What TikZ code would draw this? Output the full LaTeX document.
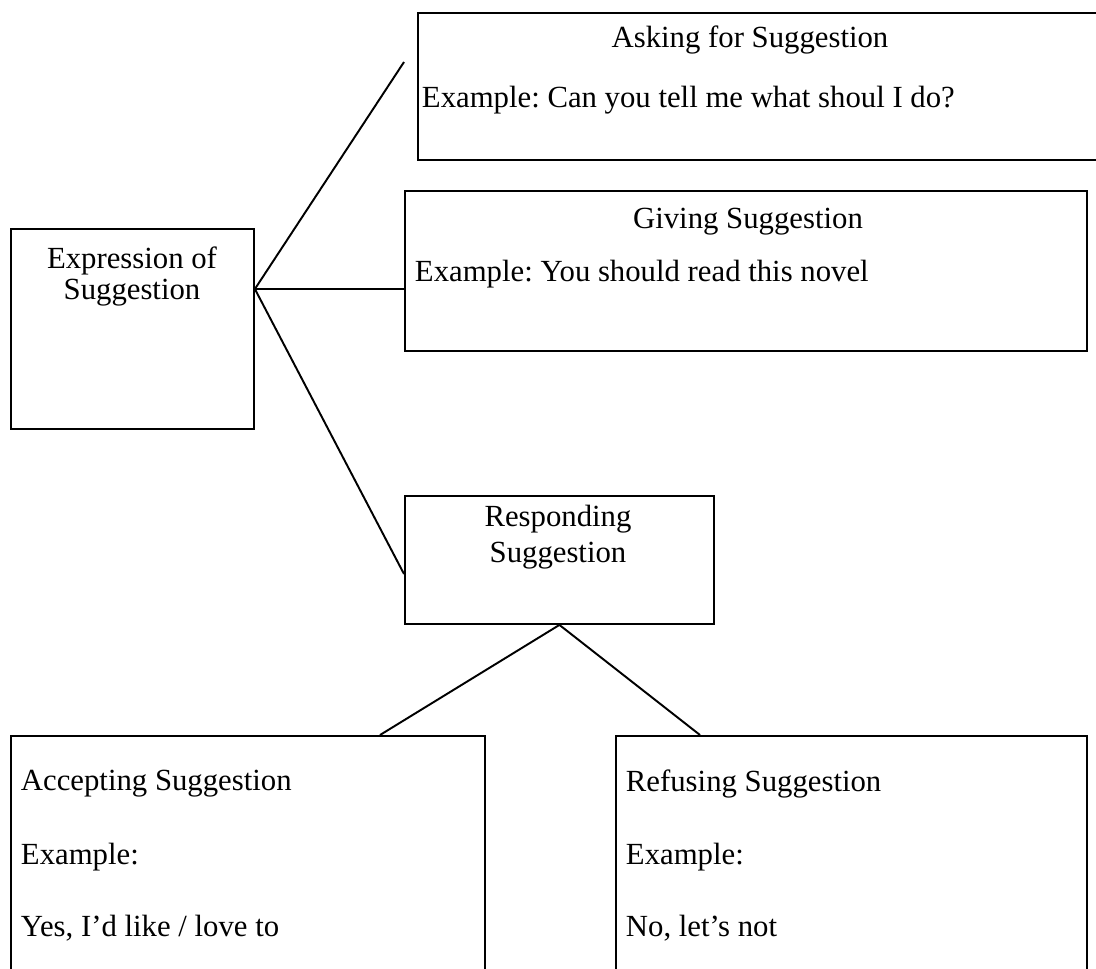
\documentclass[tikz,border=0pt]{standalone}
\usepackage{fontspec}
\setmainfont{Liberation Serif}
\frenchspacing

\begin{document}
\begin{tikzpicture}[x=0.02cm,y=-0.02cm,line width=1.1pt,
    box/.style={draw,rectangle,anchor=north west,inner sep=0pt},
    txt/.style={inner sep=0pt,font=\fontsize{17.5}{21}\selectfont}]
    \clip (0,0) rectangle (1096,968);

    % boxes
    \node[box,minimum width=4.86cm,minimum height=4cm] (expr) at (10,228) {};
    \node[box,minimum width=13.86cm,minimum height=2.94cm] (ask) at (417,12) {};
    \node[box,minimum width=13.64cm,minimum height=3.2cm] (give) at (404,190) {};
    \node[box,minimum width=6.18cm,minimum height=2.56cm] (resp) at (404,495) {};
    \node[box,minimum width=9.48cm,minimum height=5.1cm] (accept) at (10,735) {};
    \node[box,minimum width=9.42cm,minimum height=5.1cm] (refuse) at (615,735) {};

    % texts
    \node[txt] (expr1) at (132,261) {Expression of};
    \node[txt] (expr2) at (132,293) {Suggestion};
    \node[txt] (ask1) at (750,40) {Asking for Suggestion};
    \node[txt,anchor=west] (ask2) at (421,100) {Example: Can you tell me what shoul I do?};
    \node[txt] (give1) at (748,222) {Giving Suggestion};
    \node[txt,anchor=west] (give2) at (414,274) {Example: You should read this novel};
    \node[txt] (resp1) at (558,519) {Responding};
    \node[txt] (resp2) at (558,556) {Suggestion};
    \node[txt,anchor=west] (accept1) at (20,784) {Accepting Suggestion};
    \node[txt,anchor=west] (accept2) at (20,857) {Example:};
    \node[txt,anchor=west] (accept3) at (20,928) {Yes, I’d like / love to};
    \node[txt,anchor=west] (refuse1) at (625,784) {Refusing Suggestion};
    \node[txt,anchor=west] (refuse2) at (625,857) {Example:};
    \node[txt,anchor=west] (refuse3) at (625,928) {No, let’s not};

    % connectors
    \coordinate (fork) at (expr.north east |- 0,289);
    \coordinate (askend) at (404,62);
    \coordinate (respend) at (resp.west |- 0,574);
    \coordinate (accend) at (accept.north -| 380,0);
    \coordinate (refend) at (refuse.north -| 700,0);

    \path[draw]
        (fork) edge (askend)
        (fork) edge (give.west |- fork)
        (fork) edge (respend)
        (resp.south) edge (accend)
        (resp.south) edge (refend)
        ;
\end{tikzpicture}
\end{document}
